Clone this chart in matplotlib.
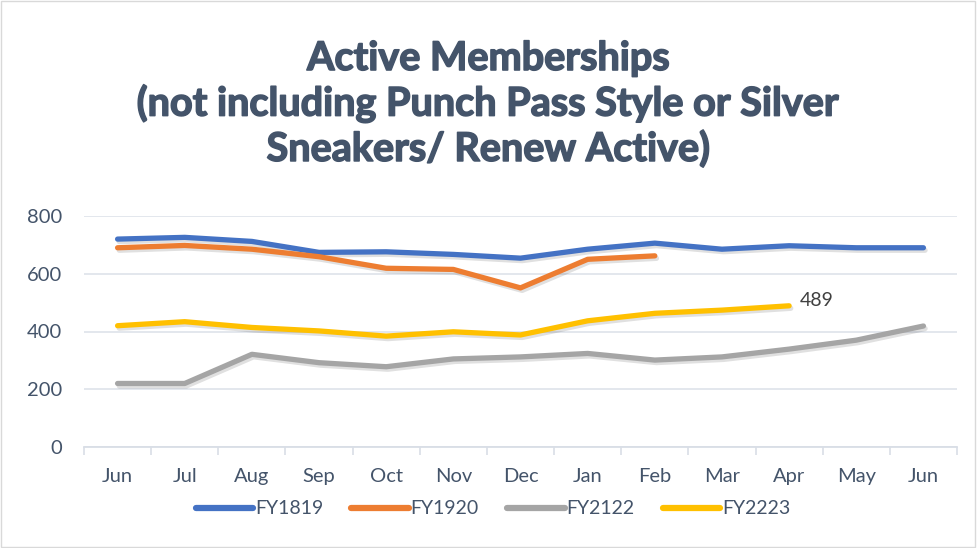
import matplotlib
matplotlib.use("Agg")
import matplotlib.pyplot as plt
import matplotlib.patheffects as pe
import numpy as np

months = ["Jun", "Jul", "Aug", "Sep", "Oct", "Nov", "Dec", "Jan", "Feb", "Mar", "Apr", "May", "Jun"]
fy1819 = [720, 726, 712, 674, 676, 667, 654, 685, 706, 685, 697, 690, 690]
fy1920 = [690, 698, 685, 659, 619, 615, 551, 650, 662]
fy2122 = [220, 220, 321, 292, 278, 305, 312, 324, 301, 312, 339, 370, 419]
fy2223 = [420, 434, 414, 402, 384, 399, 388, 437, 463, 474, 489]

series = [("FY1819", fy1819, "#4472C4"),
          ("FY1920", fy1920, "#ED7D31"),
          ("FY2122", fy2122, "#A5A5A5"),
          ("FY2223", fy2223, "#FFC000")]

plt.rcParams['font.family'] = ['Lato', 'DejaVu Sans']
txt = "#44546A"

fig = plt.figure(figsize=(9.77, 5.48), dpi=100)
ax = fig.add_axes([84/977, 1-447/548, (957-84)/977, (447-216)/548])

shadow = [pe.SimpleLineShadow(offset=(1.2, -1.8), shadow_color="black", alpha=0.12), pe.Normal()]
for name, vals, col in series:
    x = np.arange(len(vals))
    ax.plot(x, vals, color=col, lw=3.8, solid_capstyle="round", solid_joinstyle="round",
            label=name, path_effects=shadow)

ax.annotate(str(fy2223[-1]), (len(fy2223)-1, fy2223[-1]), xytext=(8, 4), textcoords="offset points",
            fontsize=14, color="#404040", va="center", ha="left")

ax.set_xlim(-0.5, len(months)-0.5)
ax.set_ylim(0, 800)
ax.set_yticks([0, 200, 400, 600, 800])
ax.set_xticks(range(len(months)))
ax.set_xticklabels(months)
ax.set_xticks(np.arange(-0.5, len(months), 1), minor=True)
ax.tick_params(axis="x", which="major", length=0, pad=15, labelsize=14.5, labelcolor=txt)
ax.tick_params(axis="x", which="minor", length=6, color="#D9DEE6", width=1.2)
ax.tick_params(axis="y", length=0, pad=16, labelsize=14.5, labelcolor=txt)
ax.grid(axis="y", color="#E1E5EC", lw=1.3)
ax.set_axisbelow(True)
for s in ["top", "right", "left"]:
    ax.spines[s].set_visible(False)
ax.spines["bottom"].set_color("#D9DEE6")
ax.spines["bottom"].set_linewidth(1.3)

fig.text(0.5, 1-104/548, "Active Memberships\n(not including Punch Pass Style or Silver\nSneakers/ Renew Active)",
         ha="center", va="center", fontsize=28.5, fontweight="bold", color=txt, linespacing=1.22,
         path_effects=[pe.withStroke(linewidth=1.1, foreground=txt)])

leg = fig.legend(loc="center", bbox_to_anchor=(0.5046, 1-509/548), ncol=4, frameon=False,
                 fontsize=14, handlelength=2.95, handletextpad=0.1, columnspacing=1.45)
for t in leg.get_texts():
    t.set_color(txt)
for l in leg.get_lines():
    l.set_linewidth(4.5)
    l.set_path_effects([])

fig.patches.append(plt.Rectangle((0.001, 0.001), 0.997, 0.997, transform=fig.transFigure,
                                 fill=False, ec="#D9D9D9", lw=1))
fig.savefig("out.png", dpi=100)
